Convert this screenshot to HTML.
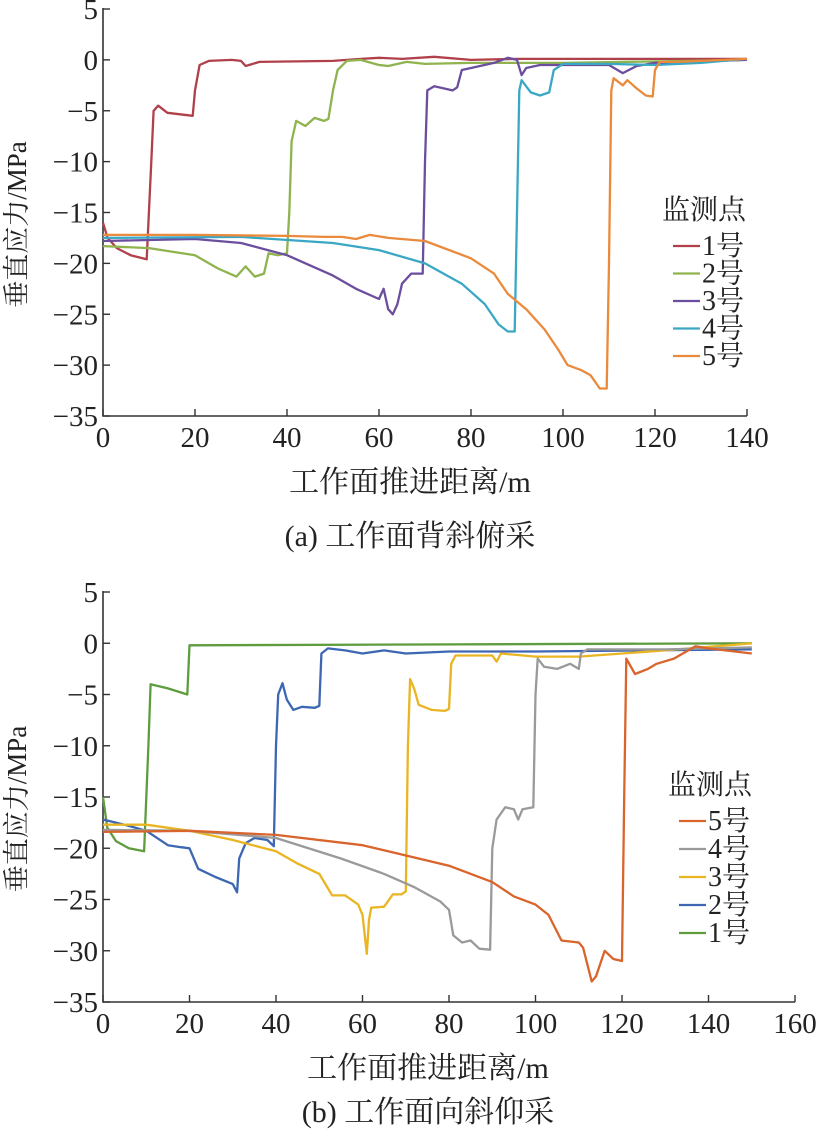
<!DOCTYPE html>
<html><head><meta charset="utf-8">
<style>
html,body{margin:0;padding:0;background:#fff;}
svg text{font-family:"Liberation Serif","Noto Serif CJK SC","Noto Sans CJK SC",serif;fill:#222;}
</style></head>
<body>
<svg id="chart" width="828" height="1137" viewBox="0 0 828 1137" xmlns="http://www.w3.org/2000/svg"></svg>
<script>
// ---- Chart (a) data ----
const aXTicks = [0,20,40,60,80,100,120,140];
const aYTicks = [5,0,-5,-10,-15,-20,-25,-30,-35];
const aNames = ['1号','2号','3号','4号','5号'];
const aColors = ['#b0404a','#8fb34e','#6b4e9e','#3aa8c4','#ea8a3c'];
const a1 = [[0,-16],[1,-17.5],[3,-18.5],[6,-19.2],[9.5,-19.6],[10.5,-10],[11,-5],[12,-4.5],[14,-5.2],[19.5,-5.5],[20,-3],[21,-0.5],[23,-0.1],[28,0],[30,-0.1],[31,-0.6],[34,-0.2],[50,-0.1],[56,0.1],[60,0.2],[65,0.1],[72,0.3],[80,0],[90,0.1],[140,0.1]];
const a2 = [[0,-18.3],[10,-18.5],[20,-19.2],[25,-20.5],[29,-21.3],[31,-20.3],[33,-21.3],[35,-21],[36,-19],[38,-19.2],[40,-19],[40.5,-15],[41,-8],[42,-6],[44,-6.5],[46,-5.7],[48,-6],[49,-5.8],[50,-3],[51,-1],[53,-0.1],[56,0],[60,-0.5],[62,-0.6],[66,-0.2],[70,-0.4],[80,-0.3],[100,-0.3],[140,0]];
const a3 = [[0,-17.8],[20,-17.6],[30,-18],[40,-19.2],[50,-21.2],[55,-22.5],[60,-23.5],[61,-22.5],[62,-24.5],[63,-25],[64,-24],[65,-22],[67,-21],[69.5,-21],[70,-10],[70.5,-3],[72,-2.6],[76,-3],[77,-2.7],[78,-1],[80,-0.8],[85,-0.3],[88,0.2],[90,0],[91,-1.5],[92,-0.8],[95,-0.5],[110,-0.5],[113,-1.3],[116,-0.6],[120,-0.3],[140,0]];
const a4 = [[0,-17.5],[30,-17.4],[50,-18],[60,-18.7],[70,-20],[78,-22],[83,-24],[86,-26],[88,-26.7],[89.5,-26.7],[90,-15],[90.5,-3],[91,-2],[93,-3.2],[95,-3.5],[97,-3.2],[98,-1],[100,-0.4],[110,-0.4],[120,-0.5],[130,-0.3],[140,0.1]];
const a5 = [[0,-17.2],[20,-17.2],[40,-17.3],[48,-17.4],[52,-17.4],[55,-17.6],[58,-17.2],[62,-17.5],[70,-17.8],[80,-19.5],[85,-21],[88,-23],[92,-24.5],[96,-26.5],[99,-28.5],[101,-30],[104,-30.5],[106,-31],[108,-32.3],[109.5,-32.3],[110,-20],[110.5,-3],[111,-1.8],[113,-2.5],[114,-2],[116,-2.8],[118,-3.5],[119.5,-3.6],[120,-1],[121,-0.2],[125,-0.2],[140,0.1]];
// ---- Chart (b) data ----
const bXTicks = [0,20,40,60,80,100,120,140,160];
const bYTicks = [5,0,-5,-10,-15,-20,-25,-30,-35];
const bNames = ['5号','4号','3号','2号','1号'];
const bColors = ['#d9642c','#9a9a9a','#e9b522','#3d67b2','#5e9c3e'];
const b1 = [[0,-15],[1,-18],[3,-19.3],[6,-20],[9.5,-20.3],[10.5,-10],[11,-4],[15,-4.4],[19.5,-5],[20,-0.2],[150,0]];
const b2 = [[0,-17.2],[5,-17.7],[10,-18.3],[15,-19.7],[18,-19.9],[20,-20],[22,-22],[26,-22.8],[30,-23.5],[31,-24.3],[31.5,-21],[33,-19.5],[35,-19],[38,-19.2],[39.5,-19.8],[40,-10],[40.5,-5],[41.5,-3.9],[42.5,-5.5],[44,-6.5],[46,-6.2],[49,-6.3],[50,-6.1],[50.5,-1],[52,-0.5],[56,-0.7],[60,-1],[65,-0.7],[70,-1],[80,-0.8],[100,-0.8],[150,-0.6]];
const b3 = [[0,-17.7],[10,-17.7],[20,-18.3],[30,-19.2],[40,-20.3],[45,-21.5],[50,-22.5],[53,-24.6],[56,-24.6],[59,-25.5],[60,-26.5],[61,-30.3],[61.5,-27],[62,-25.8],[65,-25.7],[67,-24.5],[69,-24.5],[70,-24.2],[70.5,-10],[71,-3.5],[72,-4.5],[73,-6],[76,-6.5],[79,-6.6],[80,-6.4],[80.5,-2],[81.5,-1.2],[86,-1.2],[90,-1.2],[91,-1.8],[92,-1],[100,-1.3],[110,-1.3],[120,-1],[130,-0.7],[150,0]];
const b4 = [[0,-18.2],[20,-18.3],[40,-19],[55,-21],[65,-22.5],[72,-23.8],[78,-25.2],[80,-26],[81,-28.5],[83,-29.2],[85,-29],[87,-29.8],[89.5,-29.9],[90,-20],[91,-17.2],[93,-16],[95,-16.2],[96,-17.2],[97,-16.2],[99.5,-16],[100,-5],[100.5,-1.5],[102,-2.3],[105,-2.5],[108,-2],[110,-2.5],[110.5,-1],[112,-0.6],[130,-0.6],[150,-0.4]];
const b5 = [[0,-18.4],[20,-18.3],[40,-18.7],[60,-19.7],[80,-21.7],[90,-23.3],[95,-24.7],[100,-25.5],[103,-26.5],[106,-29],[110,-29.2],[111,-29.7],[113,-33],[114,-32.5],[116,-30],[118,-30.8],[120,-31],[120.5,-15],[121,-1.5],[123,-3],[126,-2.5],[128,-2],[132,-1.5],[137,-0.3],[140,-0.5],[150,-1]];

const NS='http://www.w3.org/2000/svg';
const svg=document.getElementById('chart');
function mk(tag,attrs,parent){const e=document.createElementNS(NS,tag);for(const k in attrs)e.setAttribute(k,attrs[k]);(parent||svg).appendChild(e);return e;}

function drawChart(cfg){
  const g=mk('g',{});
  
  
  const xs=v=>cfg.x0+(v-cfg.xMin)/(cfg.xMax-cfg.xMin)*(cfg.x1-cfg.x0);
  const ys=v=>cfg.y0+(cfg.yMax-v)/(cfg.yMax-cfg.yMin)*(cfg.y1-cfg.y0);
  const ax=mk('path',{d:`M${cfg.x0},${cfg.y0-1}V${cfg.y1}H${cfg.x1}`,stroke:'#333','stroke-width':1.6,fill:'none'},g);
  
  
  cfg.xTicks.forEach(t=>{
    const x=xs(t);
    mk('line',{x1:x,x2:x,y1:cfg.y1,y2:cfg.y1-7,stroke:'#333','stroke-width':1.4},g);
    const tx=mk('text',{x:x,y:cfg.y1+31,'font-size':29,'text-anchor':'middle'},g);
    tx.textContent=t;
    
    
  });
  cfg.yTicks.forEach(t=>{
    const y=ys(t);
    mk('line',{x1:cfg.x0,x2:cfg.x0+7,y1:y,y2:y,stroke:'#333','stroke-width':1.4},g);
    const tx=mk('text',{x:cfg.x0-5,y:y+10,'font-size':29,'text-anchor':'end'},g);
    tx.textContent=t===0?'0':(t<0?'\u2212'+(-t):t);
    
    
  });
  cfg.series.forEach((s,i)=>{
    const d=s.map((p,j)=>(j?'L':'M')+xs(p[0]).toFixed(1)+','+ys(p[1]).toFixed(1)).join('');
    const pth=mk('path',{d:d,stroke:cfg.colors[i],'stroke-width':2.3,fill:'none','stroke-linejoin':'round'},g);
    
    
  });
  const lt=mk('text',{x:cfg.legX,y:cfg.legY,'font-size':28},g);
  lt.textContent='监测点';
  
  
  cfg.names.forEach((n,i)=>{
    const y=cfg.legY+36+i*cfg.legStep;
    const col=cfg.legColors[i];
    mk('line',{x1:cfg.legX+11,x2:cfg.legX+38,y1:y-9,y2:y-9,stroke:col,'stroke-width':2.3},g);
    const t=mk('text',{x:cfg.legX+40,y:y,'font-size':28},g);
    t.textContent=n;
    
    
  });
  const yl=mk('text',{transform:`translate(${cfg.ylX},${(cfg.y0+cfg.y1)/2+12}) rotate(-90)`,'font-size':27,'text-anchor':'middle'},g);
  yl.textContent='垂直应力/MPa';
  
  
  const xl=mk('text',{x:cfg.xlX,y:cfg.xlY,'font-size':30,'text-anchor':'middle'},g);
  xl.textContent='工作面推进距离/m';
  
  
  const cap=mk('text',{x:cfg.xlX,y:cfg.capY,'font-size':30,'text-anchor':'middle'},g);
  cap.textContent=cfg.caption;
  
  
}

drawChart({id:'chart-a',x0:103,x1:747,y0:9,y1:416,xMin:0,xMax:140,yMin:-35,yMax:5,
  xTicks:aXTicks,yTicks:aYTicks,series:[a1,a2,a3,a4,a5],colors:aColors,seriesNames:['1','2','3','4','5'],
  names:aNames,legColors:aColors,legX:662,legY:219,legStep:27.5,ylX:26,xlX:410,xlY:492,capY:546,
  caption:'(a) 工作面背斜俯采'});
drawChart({id:'chart-b',x0:103,x1:795,y0:592,y1:1002,xMin:0,xMax:160,yMin:-35,yMax:5,
  xTicks:bXTicks,yTicks:bYTicks,series:[b1,b2,b3,b4,b5],colors:[bColors[4],bColors[3],bColors[2],bColors[1],bColors[0]],seriesNames:['1','2','3','4','5'],
  names:bNames,legColors:bColors,legX:668,legY:794,legStep:28,ylX:26,xlX:428,xlY:1078,capY:1122,
  caption:'(b) 工作面向斜仰采'});
</script>
</body></html>
